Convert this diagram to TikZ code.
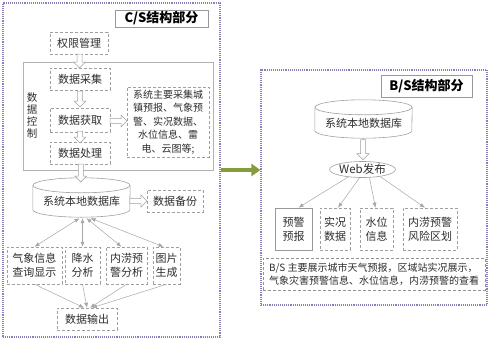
\documentclass[tikz,border=0pt]{standalone}
\usepackage{fontspec}
\setmainfont{Noto Sans CJK SC}
\usetikzlibrary{calc,arrows.meta,shapes.geometric}
\definecolor{purp}{RGB}{140,125,185}
\definecolor{grn}{RGB}{132,156,62}
\definecolor{txt}{RGB}{45,45,45}
\tikzset{
  frame/.style={draw=purp, densely dotted, line width=1.1pt},
  innerframe/.style={draw=gray!60, line width=0.6pt},
  box/.style={draw=gray!75, densely dashed, line width=0.5pt, text=txt, font=\fontsize{11pt}{14pt}\selectfont, align=center, inner sep=1pt},
  sbox/.style={draw=gray!80, line width=0.8pt, text=txt, font=\fontsize{11pt}{14pt}\selectfont, align=center, inner sep=1pt},
  titlebox/.style={draw=gray!80, line width=0.8pt, font=\fontsize{13pt}{15pt}\selectfont\bfseries, inner sep=1pt},
  cyltext/.style={text=txt, font=\fontsize{11pt}{13pt}\selectfont, inner sep=0pt},
  cylline/.style={draw=gray!75, line width=0.6pt},
  barrowline/.style={draw=gray!75, fill=white, line width=0.5pt},
  conn/.style={draw=gray!70, line width=0.5pt, -{Latex[length=5pt,width=4pt]}},
  dconn/.style={draw=gray!70, line width=0.5pt, {Latex[length=5pt,width=4pt]}-{Latex[length=5pt,width=4pt]}},
  pics/barrow/.style={code={
    \draw[barrowline] (-#1/2,-2.5pt) -- (#1/2-6pt,-2.5pt) -- (#1/2-6pt,-6pt) -- (#1/2,0pt)
      -- (#1/2-6pt,6pt) -- (#1/2-6pt,2.5pt) -- (-#1/2,2.5pt) -- cycle;}}
}
\begin{document}
\begin{tikzpicture}[x=1pt,y=-1pt]
\useasboundingbox (0,0) rectangle (492,341);
% frames
\node[frame, minimum width=217pt, minimum height=334pt] (lf) at (111.5,170) {};
\node[frame, minimum width=226pt, minimum height=235pt] (rf) at (374,187.5) {};
\node[innerframe, minimum width=190pt, minimum height=108pt] (kzf) at (118,116) {};
% left part
\node[titlebox, minimum width=93pt, minimum height=17pt] (cst) at (161.5,18.5) {C/S结构部分};
\node[box, minimum width=58pt, minimum height=22pt] (qx) at (79,43) {权限管理};
\node[box, minimum width=60pt, minimum height=22pt] (cj) at (80,79) {数据采集};
\node[box, minimum width=60pt, minimum height=24pt] (hq) at (80,120) {数据获取};
\node[box, minimum width=60pt, minimum height=22pt] (cl) at (80,153) {数据处理};
\node[box, minimum width=82pt, minimum height=70pt, font=\fontsize{10pt}{13.5pt}\selectfont] (tb) at (168,122)
  {系统主要采集城\\镇预报、气象预\\警、实况数据、\\水位信息、雷\\电、云图等;};
\node[text=txt, font=\fontsize{10.5pt}{12pt}\selectfont, align=center, inner sep=0pt] (kz) at (32,115) {数\\据\\控\\制};
\node[cyltext, minimum width=97pt, minimum height=39pt] (db1) at (81.5,197.5) {};
\node[cyltext] (db1t) at (81.5,201) {系统本地数据库};
\node[box, minimum width=56pt, minimum height=22pt] (bf) at (175,201) {数据备份};
\node[box, minimum width=55pt, minimum height=37pt] (b1) at (34.5,265.5) {气象信息\\查询显示};
\node[box, minimum width=35pt, minimum height=37pt] (b2) at (82.5,265.5) {降水\\分析};
\node[box, minimum width=41pt, minimum height=37pt] (b3) at (126.5,265.5) {内涝预\\警分析};
\node[box, minimum width=27pt, minimum height=37pt] (b4) at (166.5,265.5) {图片\\生成};
\node[box, minimum width=60pt, minimum height=22pt] (out) at (87,319) {数据输出};
% left cylinder
\draw[cylline] ([yshift=-7.5pt]db1.north west) -- ([yshift=7.5pt]db1.south west)
  arc[start angle=180, end angle=360, x radius=48.5pt, y radius=7.5pt]
  -- ([yshift=-7.5pt]db1.north east);
\draw[cylline] ([yshift=-7.5pt]db1.north) ellipse[x radius=48.5pt, y radius=7.5pt];
% block arrows left
\pic[rotate=-90] at ($(qx.south)!0.5!(cj.north)$) {barrow=14pt};
\pic[rotate=-90] at ($(cj.south)!0.5!(hq.north)$) {barrow=16pt};
\pic[rotate=-90] at ($(hq.south)!0.5!(cl.north)$) {barrow=12pt};
\pic[rotate=-90] at ($(cl.south)!0.5!(db1.north)+(0,2)$) {barrow=18pt};
\pic at ($(hq.east)!0.5!(tb.west)$) {barrow=17pt};
\pic at ($(db1.east |- bf.west)!0.5!(bf.west)$) {barrow=17pt};
% connectors left
\draw[dconn] ([xshift=-2pt,yshift=-1pt]db1.south) -- (b1.north);
\draw[dconn] ([xshift=1pt,yshift=-1pt]db1.south) -- (b2.north);
\draw[dconn] ([xshift=5pt,yshift=-1pt]db1.south) -- ([xshift=-5pt]b3.north);
\draw[dconn] ([xshift=9pt,yshift=-1pt]db1.south) -- ([xshift=-3pt]b4.north);
\draw[conn] (b1.south) -- ([xshift=-3pt]out.north);
\draw[conn] (b2.south) -- ([xshift=0pt]out.north);
\draw[conn] (b3.south) -- ([xshift=3pt]out.north);
\draw[conn] (b4.south) -- ([xshift=5pt]out.north);
% right part
\node[titlebox, minimum width=91pt, minimum height=22pt] (bst) at (426.5,86.5) {B/S结构部分};
\node[cyltext, minimum width=97pt, minimum height=38pt] (db2) at (363.5,119) {};
\node[cyltext] (db2t) at (363.5,123) {系统本地数据库};
\draw[cylline] ([yshift=-7.5pt]db2.north west) -- ([yshift=7.5pt]db2.south west)
  arc[start angle=180, end angle=360, x radius=48.5pt, y radius=7.5pt]
  -- ([yshift=-7.5pt]db2.north east);
\draw[cylline] ([yshift=-7.5pt]db2.north) ellipse[x radius=48.5pt, y radius=7.5pt];
\node[ellipse, draw=gray!75, line width=0.6pt, text=txt, font=\fontsize{11.5pt}{13pt}\selectfont,
  minimum width=61pt, minimum height=16pt, inner sep=0pt] (web) at (362.5,169.5) {Web发布};
\pic[rotate=-90] at ($(db2.south)!0.5!(web.north)$) {barrow=20pt};
\node[sbox, minimum width=37pt, minimum height=42pt] (r1) at (293.5,229) {预警\\预报};
\node[box, minimum width=30pt, minimum height=42pt] (r2) at (335,229) {实况\\数据};
\node[box, minimum width=33pt, minimum height=42pt] (r3) at (376.5,229) {水位\\信息};
\node[box, minimum width=54pt, minimum height=42pt] (r4) at (430,229) {内涝预警\\风险区划};
\draw[conn] ([xshift=-14pt,yshift=1pt]web.south) -- ([xshift=5pt]r1.north);
\draw[conn] ([xshift=-3pt]web.south) -- ([xshift=3pt]r2.north);
\draw[conn] ([xshift=7pt]web.south) -- ([xshift=-1pt]r3.north);
\draw[conn] ([xshift=18pt,yshift=1pt]web.south) -- ([xshift=-5pt]r4.north);
\node[box, draw=gray!85, line width=0.7pt, minimum width=222pt, minimum height=32pt,
  font=\fontsize{10pt}{13pt}\selectfont, align=left] (note) at (374,274)
  {B/S 主要展示城市天气预报，区域站实况展示，\\气象灾害预警信息、水位信息，内涝预警的查看};
% green arrow
\draw[grn, line width=4pt, -{Triangle[length=9pt,width=12pt]}] (lf.east) -- (rf.west |- lf.east);
\end{tikzpicture}
\end{document}
